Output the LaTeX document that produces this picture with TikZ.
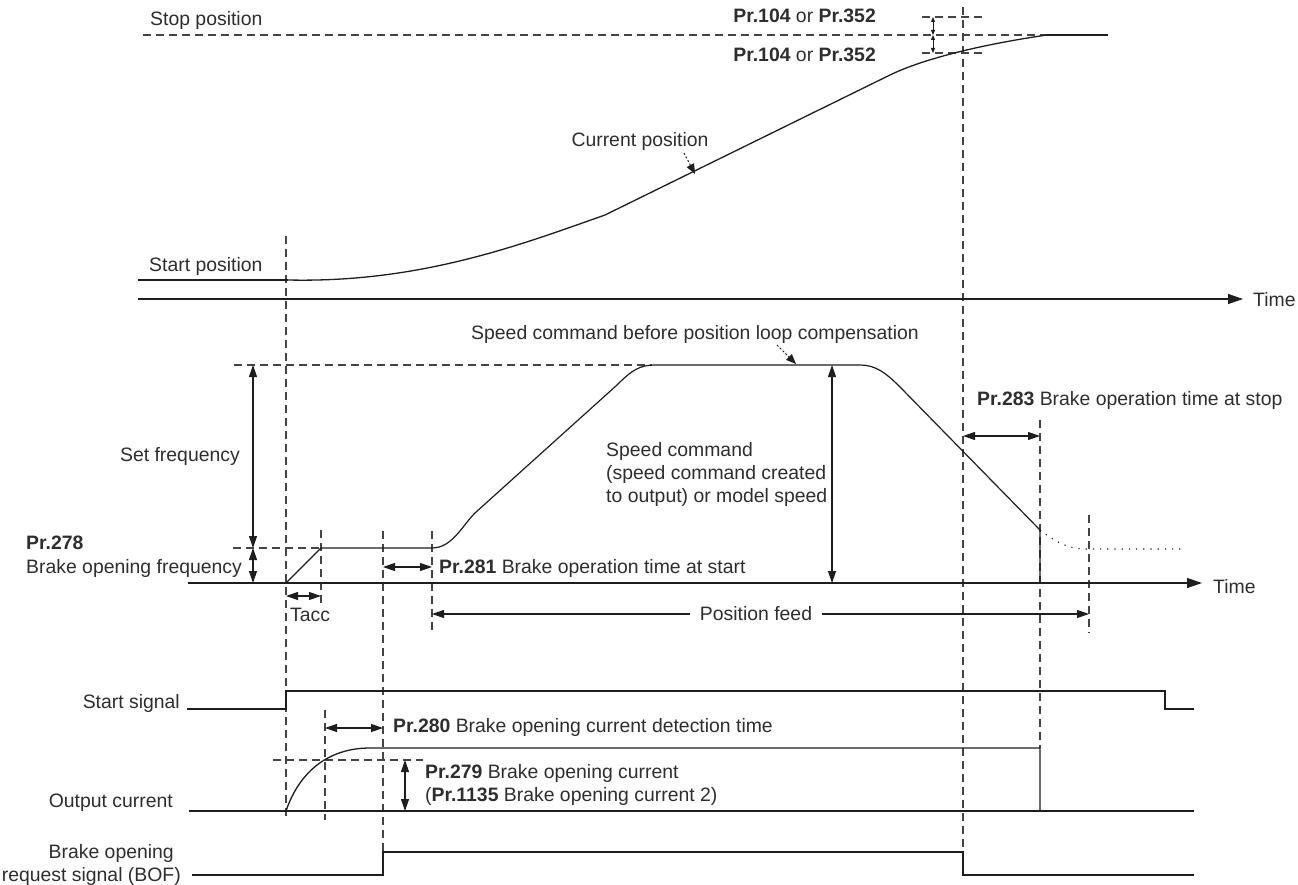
\documentclass[tikz,border=0pt]{standalone}
\usepackage{fontspec}
\setmainfont{Liberation Sans}
\usetikzlibrary{arrows.meta}
\definecolor{ink}{HTML}{1E1E1E}
\definecolor{txt}{HTML}{2E2E2E}
\definecolor{gd}{HTML}{444444}
\tikzset{
  sig/.style={draw=ink, line width=1.3pt},
  guide/.style={draw=gd, line width=1.2pt, dash pattern=on 8pt off 5pt},
  dimarrow/.style={draw=ink, line width=1.1pt, {Triangle[length=12pt,width=8pt]}-{Triangle[length=12pt,width=8pt]}},
  dimsmall/.style={draw=ink, line width=0.9pt, {Triangle[length=5pt,width=4pt]}-{Triangle[length=5pt,width=4pt]}},
  onearrow/.style={draw=ink, line width=1.1pt, -{Triangle[length=12pt,width=8pt]}},
  axisarrow/.style={draw=ink, line width=1.3pt, -{Triangle[length=15pt,width=10pt]}},
  pointer/.style={draw=ink, line width=1pt, dash pattern=on 2pt off 2pt, -{Triangle[length=10pt,width=8pt]}},
  lbl/.style={text=txt, font=\fontsize{19.4}{23}\selectfont, inner sep=0pt, text height=13.8pt, text depth=0pt},
}
\begin{document}
\begin{tikzpicture}[x=1pt,y=-1pt]
\useasboundingbox[fill=white] (0,0) rectangle (1298,885);

% ---------- coordinates ----------
\coordinate (stopL) at (143,35);
\coordinate (stopE) at (1047,35);
\coordinate (stopR) at (1108,35);
\coordinate (tickAL) at (922,17);
\coordinate (tickAR) at (982,17);
\coordinate (tickBL) at (922,53);
\coordinate (tickBR) at (982,53);
\coordinate (pA1) at (933,17);
\coordinate (pA2) at (933,35);
\coordinate (pA3) at (933,53);
\coordinate (startL) at (138,280);
\coordinate (startR) at (288,280);
\coordinate (kink) at (605,215);
\coordinate (lin) at (890,75);
\coordinate (ax1L) at (138,299);
\coordinate (ax1R) at (1243,299);
\coordinate (ax2L) at (188,583);
\coordinate (ax2R) at (1202,583);
\coordinate (curPa) at (684,153);
\coordinate (curPb) at (695,174);
\coordinate (spdPa) at (777,345);
\coordinate (spdPb) at (796,364);

% vertical guides
\coordinate (g286t) at (286,236);  \coordinate (g286b) at (286,820);
\coordinate (g321t) at (321,530);  \coordinate (g321b) at (321,605);
\coordinate (g325t) at (325,710);  \coordinate (g325b) at (325,820);
\coordinate (g383t) at (383,531);  \coordinate (g383b) at (383,852);
\coordinate (g432t) at (432,531);  \coordinate (g432b) at (432,633);
\coordinate (g963t) at (963,7);    \coordinate (g963b) at (963,852);
\coordinate (g1040t) at (1040,420);\coordinate (g1040b) at (1040,748);
\coordinate (g1089t) at (1089,515);\coordinate (g1089b) at (1089,633);
% horizontal guides
\coordinate (hTopL) at (234,365);  \coordinate (hTopR) at (652,365);
\coordinate (h278L) at (233,548);  \coordinate (h278R) at (321,548);
\coordinate (h279L) at (273,760);  \coordinate (h279R) at (423,760);

% speed curve points
\coordinate (s0) at (286,583);
\coordinate (s1) at (321,548);
\coordinate (s2) at (432,548);
\coordinate (s3) at (475,513);
\coordinate (s4) at (617,385);
\coordinate (s5) at (655,365);
\coordinate (s6) at (860,365);
\coordinate (s7) at (900,387);
\coordinate (s8) at (1040,530);
\coordinate (s9) at (1040,583);
\coordinate (d1) at (1089,549);
\coordinate (d2) at (1183,549);

% dimension arrow ends
\coordinate (sfT) at (253,365); \coordinate (sfM) at (253,548); \coordinate (sfB) at (253,583);
\coordinate (scT) at (832,365); \coordinate (scB) at (832,583);
\coordinate (a283L) at (963,436); \coordinate (a283R) at (1040,436);
\coordinate (a281L) at (383,567); \coordinate (a281R) at (432,567);
\coordinate (taccL) at (286,596); \coordinate (taccR) at (321,596);
\coordinate (feedL) at (432,614); \coordinate (feedR) at (1089,614);
\coordinate (a280L) at (325,728); \coordinate (a280R) at (383,728);
\coordinate (a279T) at (405,760); \coordinate (a279B) at (405,811);

% signals
\coordinate (ss0) at (187,709); \coordinate (ss1) at (286,709); \coordinate (ss2) at (286,691);
\coordinate (ss3) at (1165,691); \coordinate (ss4) at (1165,709); \coordinate (ss5) at (1194,709);
\coordinate (oc0) at (189,811); \coordinate (oc1) at (1194,811);
\coordinate (oc2) at (286,811); \coordinate (oc3) at (370,748); \coordinate (oc4) at (1040,748); \coordinate (oc5) at (1040,811);
\coordinate (bo0) at (192,875); \coordinate (bo1) at (383,875); \coordinate (bo2) at (383,852);
\coordinate (bo3) at (963,852); \coordinate (bo4) at (963,875); \coordinate (bo5) at (1194,875);

% ---------- guides ----------
\draw[guide] (stopL) -- (stopE);
\draw[guide] (tickAL) -- (tickAR);
\draw[guide] (tickBL) -- (tickBR);
\foreach \a in {286,321,325,383,432,963,1040,1089} {\draw[guide] (g\a t) -- (g\a b);}
\draw[guide] (hTopL) -- (hTopR);
\draw[guide] (h278L) -- (h278R);
\draw[guide] (h279L) -- (h279R);

% ---------- position ----------
\draw[sig] (stopE) -- (stopR);
\draw[sig] (startL) -- (startR);
\draw[sig] (startR) .. controls (420,283) and (520,245) .. (kink) -- (lin)
  .. controls (925,58) and (985,44) .. (stopE);
\draw[axisarrow] (ax1L) -- (ax1R);
\draw[dimsmall] (pA1) -- (pA2);
\draw[dimsmall] (pA2) -- (pA3);
\draw[pointer] (curPa) -- (curPb);

% ---------- speed ----------
\draw[axisarrow] (ax2L) -- (ax2R);
\draw[sig, line width=1.2pt] (s0) -- (s1) -- (s2) .. controls (452,548) and (462,526) .. (s3) -- (s4)
  .. controls (632,370) and (640,365) .. (s5) -- (s6)
  .. controls (875,365) and (885,372) .. (s7) -- (s8) -- (s9);
\draw[ink, line width=1.1pt, dash pattern=on 1.2pt off 6pt] (s8) .. controls (1060,545) and (1070,549) .. (d1) -- (d2);
\draw[pointer] (spdPa) -- (spdPb);
\draw[dimarrow] (sfT) -- (sfM);
\draw[dimarrow] (sfM) -- (sfB);
\draw[dimarrow] (scT) -- (scB);
\draw[dimarrow] (a283L) -- (a283R);
\draw[dimarrow] (a281L) -- (a281R);
\draw[dimarrow] (taccL) -- (taccR);

% ---------- signals ----------
\draw[sig] (ss0) -- (ss1) -- (ss2) -- (ss3) -- (ss4) -- (ss5);
\draw[sig] (oc0) -- (oc1);
\draw[sig] (oc2) .. controls (300,770) and (330,748) .. (oc3) -- (oc4) -- (oc5);
\draw[sig] (bo0) -- (bo1) -- (bo2) -- (bo3) -- (bo4) -- (bo5);
\draw[dimarrow] (a280L) -- (a280R);
\draw[dimarrow] (a279T) -- (a279B);

% ---------- labels ----------
\node[lbl, anchor=west] (tStop) at (150,19) {Stop position};
\node[lbl, anchor=east] (tPrA) at (876,16) {\textbf{Pr.104} or \textbf{Pr.352}};
\node[lbl, anchor=east] (tPrB) at (876,55) {\textbf{Pr.104} or \textbf{Pr.352}};
\node[lbl] (tCur) at (640,140) {Current position};
\node[lbl, anchor=west] (tStart) at (149,265) {Start position};
\node[lbl, anchor=west] (tTime1) at (1253,300) {Time};
\node[lbl, anchor=west] (tSpdB) at (471,333) {Speed command before position loop compensation};
\node[lbl, anchor=east] (tSet) at (240,455) {Set frequency};
\node[lbl, anchor=west] (t278) at (26,543) {\textbf{Pr.278}};
\node[lbl, anchor=west] (t278b) at (26,567) {Brake opening frequency};
\node[lbl, anchor=west] (tSpd1) at (606,450) {Speed command};
\node[lbl, anchor=west] (tSpd2) at (606,473) {(speed command created};
\node[lbl, anchor=west] (tSpd3) at (606,496) {to output) or model speed};
\node[lbl, anchor=west] (t283) at (977,399) {\textbf{Pr.283} Brake operation time at stop};
\node[lbl, anchor=west] (t281) at (439,567) {\textbf{Pr.281} Brake operation time at start};
\node[lbl, anchor=west] (tTime2) at (1213,587) {Time};
\node[lbl, anchor=west] (tTacc) at (290,615) {Tacc};
\node[lbl, inner xsep=10pt] (tFeed) at (756,614) {Position feed};
\draw[onearrow] (tFeed.west) -- (feedL);
\draw[onearrow] (tFeed.east) -- (feedR);
\node[lbl, anchor=east] (tSS) at (180,702) {Start signal};
\node[lbl, anchor=west] (t280) at (393,726) {\textbf{Pr.280} Brake opening current detection time};
\node[lbl, anchor=west] (t279) at (425,772) {\textbf{Pr.279} Brake opening current};
\node[lbl, anchor=west] (t1135) at (425,795) {(\textbf{Pr.1135} Brake opening current 2)};
\node[lbl, anchor=east] (tOC) at (173,801) {Output current};
\node[lbl, anchor=east] (tBOF1) at (174,852) {Brake opening};
\node[lbl, anchor=east] (tBOF2) at (181,875) {request signal (BOF)};
\end{tikzpicture}
\end{document}
